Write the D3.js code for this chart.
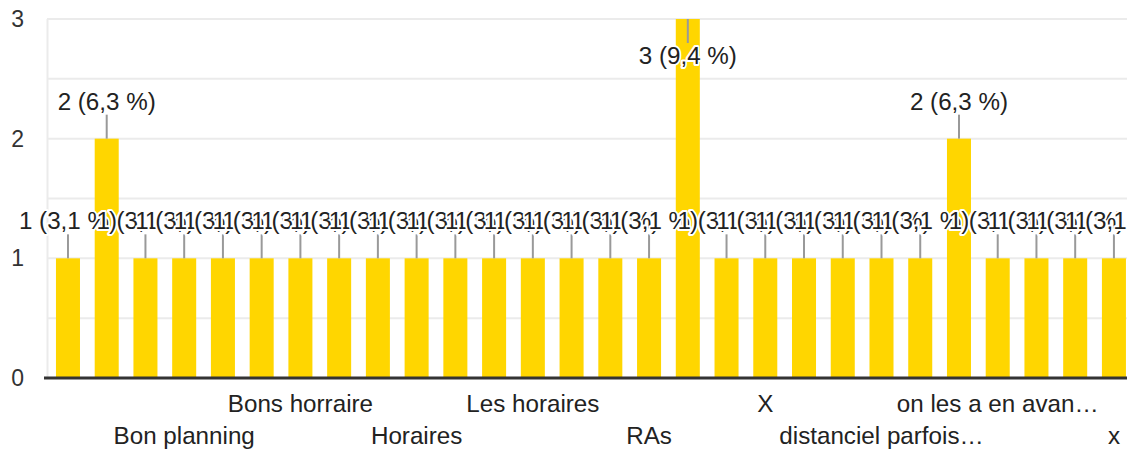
<!DOCTYPE html>
<html>
<head>
<meta charset="utf-8">
<script src="https://cdn.jsdelivr.net/npm/d3@7"></script>
<style>
  body { margin: 0; background: #fff; }
  text { font-family: "Liberation Sans", Arial, sans-serif; }
</style>
</head>
<body>
<svg id="chart"></svg>
<script>
// categories (sorted like the form answers, only every 3rd one is labelled)
var categories = [
  "Aucune", "Bien", "Bon emploi du temps", "Bon planning", "Bonne organisation",
  "Bons cours", "Bons horraire", "Cours intéressants", "Emploi du temps", "Horaires",
  "Intervenants", "La pédagogie", "Les horaires", "Les profs", "Organisation",
  "RAs", "Rien", "Tout", "X", "ambiance",
  "bien", "distanciel parfois…", "emploi du temps", "horaires", "on les a en avan…",
  "planning", "rien", "x"
];
var counts = [1, 2, 1, 1, 1, 1, 1, 1, 1, 1, 1, 1, 1, 1, 1, 1, 3, 1, 1, 1, 1, 1, 1, 2, 1, 1, 1, 1];
var yTicks = [0, 1, 2, 3];
var yGrid = [0, 0.5, 1, 1.5, 2, 2.5, 3];

var W = 1127, H = 450;
var svg = d3.select("#chart").attr("width", W).attr("height", H);

var margins = { left: 48, right: -6, top: 19, bottom: 72 };
var plotTop = margins.top;
var plotBottom = H - margins.bottom;

var total = d3.sum(counts);

var xScale = d3.scaleBand()
               .domain(d3.range(counts.length))
               .range([48.6, 1133.3])
               .paddingInner(0.38)
               .paddingOuter(0.19);

var yScale = d3.scaleLinear()
               .domain([0, 3])
               .range([plotBottom, plotTop]);

// grid
svg.append("g")
   .selectAll("line")
   .data(yGrid)
   .enter()
   .append("line")
   .attr("x1", 47)
   .attr("x2", W)
   .attr("y1", function(d) { return yScale(d); })
   .attr("y2", function(d) { return yScale(d); })
   .attr("stroke", "#ebebeb")
   .attr("stroke-width", 2);

svg.append("line")
   .attr("x1", 47.5).attr("x2", 47.5)
   .attr("y1", plotTop).attr("y2", plotBottom)
   .attr("stroke", "#ebebeb")
   .attr("stroke-width", 2);

// y axis labels
var yAxis = svg.append("g")
   .attr("transform", "translate(24,0)")
   .call(d3.axisLeft(yScale).tickValues(yTicks).tickSize(0).tickPadding(0).tickFormat(d3.format("d")));
yAxis.select(".domain").remove();
yAxis.selectAll("text")
     .attr("fill", "#333")
     .style("font-size", "23px")
     .style("font-family", "'Liberation Sans', Arial, sans-serif");

// bars
svg.selectAll("rect.bar")
   .data(counts)
   .enter()
   .append("rect")
   .attr("class", "bar")
   .attr("x", function(d, i) { return xScale(i); })
   .attr("y", function(d) { return yScale(d); })
   .attr("width", xScale.bandwidth())
   .attr("height", function(d) { return plotBottom - yScale(d); })
   .attr("fill", "#ffd600");

// baseline
svg.append("line")
   .attr("x1", 44).attr("x2", W)
   .attr("y1", plotBottom).attr("y2", plotBottom)
   .attr("stroke", "#333")
   .attr("stroke-width", 3);

// x labels, two staggered rows
var shown = d3.range(3, categories.length, 3);
var xAxis = svg.append("g")
   .attr("transform", "translate(0," + plotBottom + ")")
   .call(d3.axisBottom(xScale).tickValues(shown).tickSize(0).tickFormat(function(i) { return categories[i]; }));
xAxis.select(".domain").remove();
xAxis.selectAll("text")
     .attr("fill", "#222")
     .attr("dy", null)
     .attr("y", function(i) { return (i / 3) % 2 === 0 ? 34 : 66; })
     .style("font-size", "24.2px")
     .style("font-family", "'Liberation Sans', Arial, sans-serif");

// data labels with leader lines
var fmt = d3.format(".1f");
function labelText(v) {
  return v + " (" + fmt(v / total * 100).replace(".", ",") + " %)";
}
function inside(v) { return yScale(v) - 45 < plotTop; }

svg.selectAll("line.leader")
   .data(counts)
   .enter()
   .append("line")
   .attr("class", "leader")
   .attr("x1", function(d, i) { return xScale(i) + xScale.bandwidth() / 2; })
   .attr("x2", function(d, i) { return xScale(i) + xScale.bandwidth() / 2; })
   .attr("y1", function(d) { return yScale(d); })
   .attr("y2", function(d) { return inside(d) ? yScale(d) + 24 : yScale(d) - 24; })
   .attr("stroke", "#999")
   .attr("stroke-width", 2);

var labels = svg.selectAll("g.lab")
   .data(counts)
   .enter()
   .append("g")
   .attr("class", "lab")
   .attr("transform", function(d, i) {
     var y = inside(d) ? yScale(d) + 45 : yScale(d) - 29;
     return "translate(" + (xScale(i) + xScale.bandwidth() / 2) + "," + y + ")";
   });

labels.append("text")
      .attr("text-anchor", "middle")
      .style("font-size", "24.2px")
      .attr("fill", "none")
      .attr("stroke", "#fff")
      .attr("stroke-width", 4)
      .attr("stroke-linejoin", "round")
      .text(labelText);

labels.append("text")
      .attr("text-anchor", "middle")
      .style("font-size", "24.2px")
      .attr("fill", "#222")
      .text(labelText);
</script>
</body>
</html>
